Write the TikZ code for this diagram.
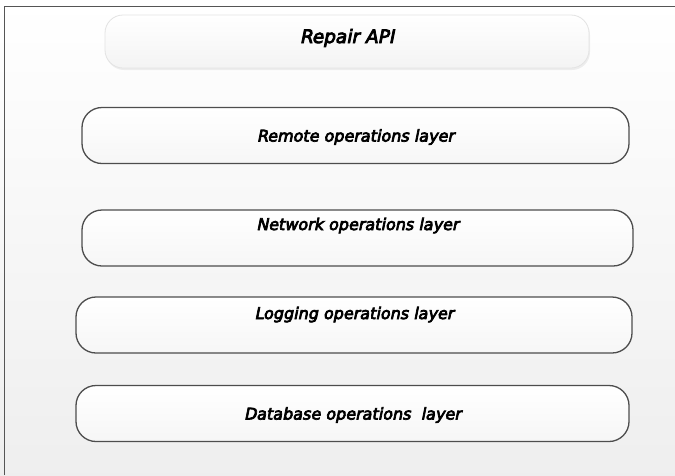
\documentclass[tikz,border=0pt]{standalone}
\usepackage{fontspec}
\setmainfont{DejaVu Sans}
\newfontfamily\layfont{DejaVu Sans}[FakeSlant=0.2, FakeBold=4.5]
\usepackage{tikz}
\usetikzlibrary{shadows}

\definecolor{framegray}{HTML}{555555}
\definecolor{edgegray}{HTML}{4D4D4D}

\begin{document}
\begin{tikzpicture}[
  x=1pt, y=-1pt,
  font=\layfont\fontsize{16}{18}\selectfont,
  layer/.style={draw=edgegray, line width=1.3pt, rounded corners=20pt,
                top color=white, bottom color=gray!7, inner sep=0pt,
                minimum width=#1, minimum height=56pt,
                text height=12pt, text depth=0pt},
  layer/.default=550pt,
  apibox/.style={draw=gray!22, line width=0.8pt, rounded corners=18pt,
                 top color=white, bottom color=gray!9, inner sep=0pt,
                 minimum width=484pt, minimum height=53pt,
                 font=\layfont\fontsize{18.5}{20}\selectfont,
                 text height=13pt, text depth=10pt,
                 drop shadow={opacity=0.12, shadow xshift=1pt, shadow yshift=-2pt}}]
% page and frame
\shade[top color=white, bottom color=gray!13] (0,0) rectangle (675,475);
\useasboundingbox (0,0) rectangle (675,475);
\draw[framegray, line width=1.4pt] (4.5,475) |- (675,6.5);
% stack
\node[apibox] (api) at (347,41.5) {Repair API};
\node[layer=547pt] (rem) at (355.5,135.5) {Remote operations layer};
\node[layer=551pt, text depth=28pt] (net) at (357.5,238) {Network\ operations\ layer};
\node[layer=556pt, text depth=24pt] (log) at (354,325) {Logging\ operations\ layer};
\node[layer=553pt] (db) at (352.5,413.5) {Database operations\ \ layer};
\end{tikzpicture}
\end{document}
